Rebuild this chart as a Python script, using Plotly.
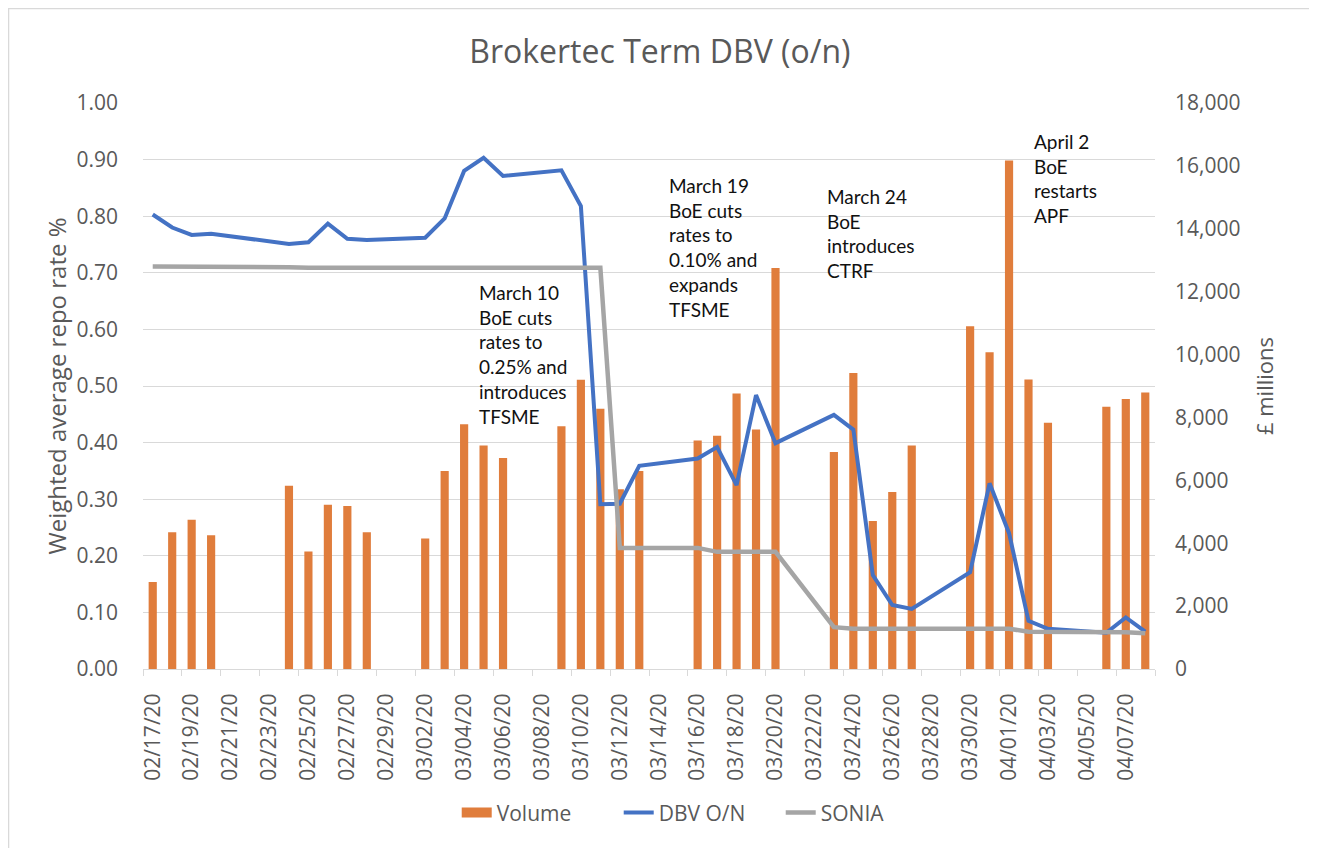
import plotly.graph_objects as go

# ---------------- data ----------------
dates = [
    "2020-02-17", "2020-02-18", "2020-02-19", "2020-02-20",
    "2020-02-24", "2020-02-25", "2020-02-26", "2020-02-27", "2020-02-28",
    "2020-03-02", "2020-03-03", "2020-03-04", "2020-03-05", "2020-03-06",
    "2020-03-09", "2020-03-10", "2020-03-11", "2020-03-12", "2020-03-13",
    "2020-03-16", "2020-03-17", "2020-03-18", "2020-03-19", "2020-03-20",
    "2020-03-23", "2020-03-24", "2020-03-25", "2020-03-26", "2020-03-27",
    "2020-03-30", "2020-03-31", "2020-04-01", "2020-04-02", "2020-04-03",
    "2020-04-06", "2020-04-07", "2020-04-08",
]

volume = [
    2770, 4350, 4750, 4250,
    5830, 3740, 5220, 5180, 4350,
    4150, 6300, 7780, 7110, 6710,
    7720, 9200, 8280, 5720, 6300,
    7270, 7420, 8760, 7620, 12750,
    6900, 9410, 4710, 5630, 7110,
    10900, 10070, 16170, 9210, 7830,
    8340, 8590, 8790,
]

dbv_on = [
    0.803, 0.780, 0.767, 0.769,
    0.751, 0.754, 0.787, 0.760, 0.758,
    0.762, 0.796, 0.880, 0.903, 0.871,
    0.881, 0.818, 0.291, 0.292, 0.359,
    0.372, 0.392, 0.325, 0.484, 0.399,
    0.449, 0.423, 0.166, 0.113, 0.106,
    0.171, 0.328, 0.240, 0.085, 0.071,
    0.064, 0.091, 0.066,
]

sonia = [
    0.711, 0.711, 0.711, 0.711,
    0.710, 0.709, 0.709, 0.709, 0.709,
    0.709, 0.709, 0.709, 0.709, 0.709,
    0.709, 0.709, 0.709, 0.214, 0.214,
    0.214, 0.207, 0.207, 0.207, 0.207,
    0.074, 0.071, 0.071, 0.071, 0.071,
    0.071, 0.071, 0.071, 0.066, 0.066,
    0.065, 0.065, 0.063,
]

x_tick_vals = [
    "2020-02-17", "2020-02-19", "2020-02-21", "2020-02-23", "2020-02-25",
    "2020-02-27", "2020-02-29", "2020-03-02", "2020-03-04", "2020-03-06",
    "2020-03-08", "2020-03-10", "2020-03-12", "2020-03-14", "2020-03-16",
    "2020-03-18", "2020-03-20", "2020-03-22", "2020-03-24", "2020-03-26",
    "2020-03-28", "2020-03-30", "2020-04-01", "2020-04-03", "2020-04-05",
    "2020-04-07",
]
x_tick_text = [
    "02/17/20", "02/19/20", "02/21/20", "02/23/20", "02/25/20",
    "02/27/20", "02/29/20", "03/02/20", "03/04/20", "03/06/20",
    "03/08/20", "03/10/20", "03/12/20", "03/14/20", "03/16/20",
    "03/18/20", "03/20/20", "03/22/20", "03/24/20", "03/26/20",
    "03/28/20", "03/30/20", "04/01/20", "04/03/20", "04/05/20",
    "04/07/20",
]
# category boundaries (tick marks) every two days
x_boundaries = [
    "2020-02-16 12:00", "2020-02-18 12:00", "2020-02-20 12:00", "2020-02-22 12:00",
    "2020-02-24 12:00", "2020-02-26 12:00", "2020-02-28 12:00", "2020-03-01 12:00",
    "2020-03-03 12:00", "2020-03-05 12:00", "2020-03-07 12:00", "2020-03-09 12:00",
    "2020-03-11 12:00", "2020-03-13 12:00", "2020-03-15 12:00", "2020-03-17 12:00",
    "2020-03-19 12:00", "2020-03-21 12:00", "2020-03-23 12:00", "2020-03-25 12:00",
    "2020-03-27 12:00", "2020-03-29 12:00", "2020-03-31 12:00", "2020-04-02 12:00",
    "2020-04-04 12:00", "2020-04-06 12:00", "2020-04-08 12:00",
]
x_range = ["2020-02-16 12:00", "2020-04-08 12:00"]

rate_ticks = [0.0, 0.1, 0.2, 0.3, 0.4, 0.5, 0.6, 0.7, 0.8, 0.9, 1.0]
volume_ticks = [0, 2000, 4000, 6000, 8000, 10000, 12000, 14000, 16000, 18000]

annotations_text = [
    "March 10<br>BoE cuts<br>rates to<br>0.25% and<br>introduces<br>TFSME",
    "March 19<br>BoE cuts<br>rates to<br>0.10% and<br>expands<br>TFSME",
    "March 24<br>BoE<br>introduces<br>CTRF",
    "April 2<br>BoE<br>restarts<br>APF",
]
annotations_pos = [(0.330, 0.689), (0.518, 0.878), (0.674, 0.859), (0.878, 0.955)]

# ---------------- styles ----------------
FONT = "'Open Sans', sans-serif"
ANN_FONT = "Lato, 'Open Sans', sans-serif"
GREY_TXT = "#595959"
GRID = "#D9D9D9"
ORANGE = "#E07D3C"
BLUE = "#4472C4"
GREY_LINE = "#A5A5A5"
DAY_MS = 86400000

fig = go.Figure()

# bars on the primary (right-hand) axis so that lines are drawn above them
fig.add_trace(go.Bar(
    x=dates, y=volume, name="Volume", yaxis="y",
    marker=dict(color=ORANGE, line=dict(width=0)),
    width=0.42 * DAY_MS, showlegend=False,
))
# legend entry for volume (wide orange swatch)
fig.add_trace(go.Scatter(
    x=[None], y=[None], name="Volume", mode="lines", yaxis="y",
    line=dict(color=ORANGE, width=12),
))
fig.add_trace(go.Scatter(
    x=dates, y=dbv_on, name="DBV O/N", mode="lines", yaxis="y2",
    line=dict(color=BLUE, width=4),
))
fig.add_trace(go.Scatter(
    x=dates, y=sonia, name="SONIA", mode="lines", yaxis="y2",
    line=dict(color=GREY_LINE, width=4.5),
))

fig.update_layout(
    width=1309, height=840,
    margin=dict(l=135, r=162, t=95, b=179),
    paper_bgcolor="white", plot_bgcolor="white",
    font=dict(family=FONT, color=GREY_TXT, size=21),
    title=dict(
        text="Brokertec Term DBV (o/n)", x=0.498, xanchor="center",
        y=1 - 44 / 840, yanchor="middle",
        font=dict(size=32, color=GREY_TXT, family=FONT),
    ),
    barmode="overlay",
    showlegend=True,
    legend=dict(
        orientation="h", x=0.310, xanchor="left", y=-0.254, yanchor="middle",
        font=dict(size=21, color=GREY_TXT), traceorder="normal",
        entrywidth=117, entrywidthmode="pixels",
    ),
    xaxis=dict(
        type="date", range=x_range,
        tickmode="array", tickvals=x_tick_vals, ticktext=x_tick_text,
        tickangle=-90, ticks="", ticklabelstandoff=15,
        tickfont=dict(size=21, color=GREY_TXT),
        showgrid=False, zeroline=False,
        showline=True, linecolor=GRID, linewidth=1,
        minor=dict(tickmode="array", tickvals=x_boundaries, ticks="outside",
                   ticklen=6, tickcolor=GRID, tickwidth=1, showgrid=False),
    ),
    yaxis=dict(
        range=[0, 18000], side="right",
        tickmode="array", tickvals=volume_ticks, tickformat=",",
        showgrid=False, zeroline=False, showline=False, ticks="",
        ticklabelstandoff=19,
        tickfont=dict(size=21, color=GREY_TXT),
        title=dict(text="£ millions", standoff=18,
                   font=dict(size=22, color=GREY_TXT)),
    ),
    yaxis2=dict(
        range=[0, 1.0], overlaying="y", side="left",
        tickmode="array", tickvals=rate_ticks, tickformat=".2f",
        showgrid=True, gridcolor=GRID, gridwidth=1, zeroline=False,
        showline=False, ticks="", ticklabelstandoff=24,
        tickfont=dict(size=21, color=GREY_TXT),
        title=dict(text="Weighted average repo rate %", standoff=3,
                   font=dict(size=24, color=GREY_TXT)),
    ),
)

for txt, (ax, ay) in zip(annotations_text, annotations_pos):
    fig.add_annotation(
        text=txt, x=ax, y=ay, xref="paper", yref="paper",
        xanchor="left", yanchor="top", align="left", showarrow=False,
        font=dict(size=19, color="#111111", family=ANN_FONT),
    )

# outer chart border
fig.add_shape(
    type="rect", xref="paper", yref="paper",
    x0=-0.1329, x1=1.1581, y0=-0.334, y1=1.167,
    line=dict(color=GRID, width=1.5), fillcolor="rgba(0,0,0,0)", layer="below",
)

fig.write_html("out.html")
